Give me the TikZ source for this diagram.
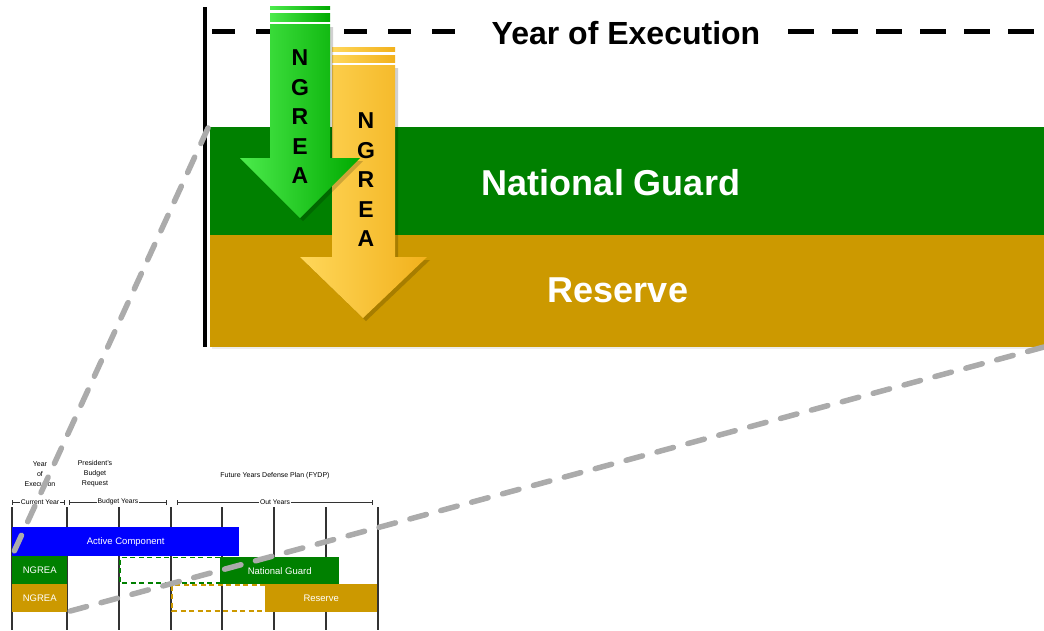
\documentclass[tikz,border=0pt]{standalone}
\usepackage{fontspec}
\setmainfont{Liberation Sans}
\usetikzlibrary{shadows}
\definecolor{ngreen}{HTML}{008000}
\definecolor{rgold}{HTML}{CC9900}
\definecolor{acblue}{HTML}{0000FF}
\definecolor{zoomgray}{HTML}{ABABAB}
\definecolor{garrowL}{HTML}{4CEB4C}
\definecolor{garrowR}{HTML}{00AA00}
\definecolor{yarrowL}{HTML}{FFD75A}
\definecolor{yarrowR}{HTML}{F2B11C}
\definecolor{gridline}{HTML}{333333}
\begin{document}
\begin{tikzpicture}[x=1pt,y=-1pt,
  bandbox/.style={rectangle,inner sep=0pt,anchor=north west},
  bandtext/.style={text=white,font=\fontsize{36}{40}\selectfont\bfseries},
  smallbar/.style={rectangle,inner sep=0pt,anchor=north west},
  smalltext/.style={text=white,font=\fontsize{9.5}{11}\selectfont},
  headtext/.style={align=center,font=\fontsize{7}{10}\selectfont},
  brackettext/.style={fill=white,inner sep=0.6pt,font=\fontsize{6.8}{8}\selectfont},
  gridv/.style={gridline,line width=1.6pt},
  bracketline/.style={gridline,line width=0.6pt},
  zoomline/.style={zoomgray,line width=5.5pt,line cap=round,dash pattern=on 17pt off 15pt},
  arrowshadow/.style={drop shadow={shadow xshift=3pt,shadow yshift=-3pt,opacity=0.18,fill=black}},
  letters/.style={align=center,font=\fontsize{23}{29.5}\selectfont\bfseries}
]
\useasboundingbox (0,0) rectangle (1044,630);

% ---------- main panel ----------
\node[bandbox,fill=ngreen,minimum width=834pt,minimum height=108pt,
      drop shadow={shadow xshift=2pt,shadow yshift=-2pt,opacity=0.15}] (ngband) at (210,127) {};
\node[bandbox,fill=rgold,minimum width=834pt,minimum height=112pt,
      drop shadow={shadow xshift=2pt,shadow yshift=-2pt,opacity=0.15}] (resband) at (210,235) {};
\node[bandtext] (ngtext) at (611,183) {National Guard};
\node[bandtext] (restext) at (618,290) {Reserve};

% left axis
\coordinate (axtop) at (205,7);
\coordinate (axbot) at (205,347);
\draw[black,line width=4pt] (axtop) -- (axbot);

% year of execution
\node[font=\fontsize{32}{36}\selectfont\bfseries] (yoe) at (626,33) {Year of Execution};
\coordinate (dlstart) at (212,31);
\coordinate (dlend) at (455,31);
\coordinate (drstart) at (788,31);
\coordinate (drend) at (1044,31);
\draw[black,line width=5pt,dash pattern=on 23pt off 21pt] (dlstart) -- (dlend);
\draw[black,line width=5pt,dash pattern=on 26pt off 18pt] (drstart) -- (drend);

% gold arrow
\path[arrowshadow,left color=yarrowL,right color=yarrowR]
  (332,65) -- (395,65) -- (395,257) -- (427,257) -- (363,318) -- (300,257) -- (332,257) -- cycle;
\path[left color=yarrowL,right color=yarrowR] (332,47) rectangle (395,51);
\path[left color=yarrowL,right color=yarrowR] (332,55) rectangle (395,62);
\node[letters] (ngreaY) at (366,180) {N\\G\\R\\E\\A};

% green arrow
\path[arrowshadow,left color=garrowL,right color=garrowR]
  (270,24) -- (330,24) -- (330,158) -- (360,158) -- (300,218) -- (240,158) -- (270,158) -- cycle;
\path[left color=garrowL,right color=garrowR] (270,6) rectangle (330,9.5);
\path[left color=garrowL,right color=garrowR] (270,13) rectangle (330,21);
\node[letters] (ngreaG) at (300,117) {N\\G\\R\\E\\A};

% ---------- small chart ----------
\foreach \xx [count=\i] in {12,67,119,171,222,274,326,378}{
  \coordinate (gt\i) at (\xx,507);
  \coordinate (gb\i) at (\xx,630);
  \draw[gridv] (gt\i) -- (gb\i);
}

\node[headtext] (hyoe) at (40,474) {Year\\of\\Execution};
\node[headtext] (hpbr) at (95,474) {President's\\Budget\\Request};
\node[headtext] (hfydp) at (275,476) {Future Years Defense Plan (FYDP)};

% brackets
\coordinate (cyl) at (12,502); \coordinate (cyr) at (64,502);
\coordinate (byl) at (69,502); \coordinate (byr) at (166,502);
\coordinate (oyl) at (177,502); \coordinate (oyr) at (372,502);
\draw[bracketline] ([yshift=-2.5pt]cyl) -- ([yshift=2.5pt]cyl) (cyl) -- (cyr) ([yshift=-2.5pt]cyr) -- ([yshift=2.5pt]cyr);
\draw[bracketline] ([yshift=-2.5pt]byl) -- ([yshift=2.5pt]byl) (byl) -- (byr) ([yshift=-2.5pt]byr) -- ([yshift=2.5pt]byr);
\draw[bracketline] ([yshift=-2.5pt]oyl) -- ([yshift=2.5pt]oyl) (oyl) -- (oyr) ([yshift=-2.5pt]oyr) -- ([yshift=2.5pt]oyr);
\node[brackettext] (tcy) at (40,502) {Current Year};
\node[brackettext] (tby) at (118,502) {Budget Years};
\node[brackettext] (toy) at (275,502) {Out Years};

% bars
\node[smallbar,fill=acblue,minimum width=227pt,minimum height=29pt] (acbar) at (12,527) {};
\node[smalltext] (actext) at (acbar.center) {Active Component};
\node[smallbar,fill=ngreen,minimum width=55pt,minimum height=28pt] (ngsmall) at (12,556) {};
\node[smalltext] at (ngsmall.center) {NGREA};
\node[smallbar,fill=rgold,minimum width=55pt,minimum height=28pt] (rsmall) at (12,584) {};
\node[smalltext] at (rsmall.center) {NGREA};

% dashed placeholders
\coordinate (gd1) at (220,557.5); \coordinate (gd2) at (120,557.5);
\coordinate (gd3) at (120,583); \coordinate (gd4) at (220,583);
\draw[ngreen,line width=1.6pt,dash pattern=on 5pt off 3.5pt] (gd1) -- (gd2) -- (gd3) -- (gd4);
\coordinate (yd1) at (265,585); \coordinate (yd2) at (172,585);
\coordinate (yd3) at (172,611); \coordinate (yd4) at (265,611);
\draw[rgold,line width=1.6pt,dash pattern=on 5pt off 3.5pt] (yd1) -- (yd2) -- (yd3) -- (yd4);

\node[smallbar,fill=ngreen,minimum width=119pt,minimum height=27pt] (ngbar) at (220,557) {};
\node[smalltext] at (ngbar.center) {National Guard};
\node[smallbar,fill=rgold,minimum width=112pt,minimum height=28pt] (rbar) at (265,584) {};
\node[smalltext] at (rbar.center) {Reserve};

% ---------- zoom lines ----------
\coordinate (zl1a) at (208,128);
\coordinate (zl1b) at (12,556);
\coordinate (zl2a) at (1044,347);
\coordinate (zl2b) at (63,613);
\draw[zoomline] (zl1a) -- (zl1b);
\draw[zoomline] (zl2a) -- (zl2b);
\end{tikzpicture}
\end{document}
